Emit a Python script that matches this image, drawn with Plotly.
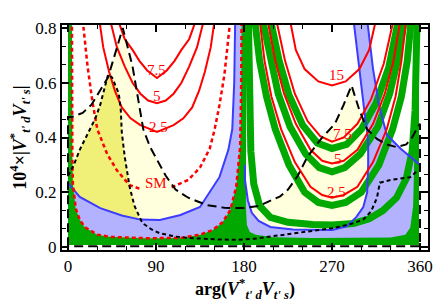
import plotly.graph_objects as go

# ---------------- data (x: arg in degrees, y: 10^4 |V*V|) ----------------
blue_left_x = [0, 12, 33, 55, 74, 94, 115, 135, 155, 164, 168, 170, 171]
blue_left_y = [0.234, 0.183, 0.142, 0.115, 0.1, 0.099, 0.117, 0.146, 0.256, 0.355, 0.43, 0.6, 0.83]

blue_right_x = [181, 181, 184, 188, 195, 207, 230, 247, 270, 285, 295, 302, 306, 307, 307, 303, 298, 292]
blue_right_y = [0.3, 0.245, 0.17, 0.125, 0.095, 0.073, 0.064, 0.062, 0.062, 0.075, 0.11, 0.146, 0.2, 0.3, 0.39, 0.5, 0.65, 0.83]

blue_diag_x = [306, 312, 318, 326, 340, 358, 360]
blue_diag_y = [0.83, 0.65, 0.52, 0.41, 0.36, 0.307, 0.3]

outer_dash_x = [4, 4, 4.5, 5, 8, 12, 17, 30, 43, 80, 115, 135, 148, 158, 166, 172, 176, 177, 177.5]
outer_dash_y = [0.83, 0.5, 0.32, 0.23, 0.14, 0.1, 0.073, 0.045, 0.037, 0.032, 0.033, 0.045, 0.062, 0.09, 0.135, 0.22, 0.365, 0.55, 0.83]

sm_left_x = [15, 20, 25, 30, 40, 50, 63, 74]
sm_left_y = [0.83, 0.66, 0.53, 0.43, 0.34, 0.28, 0.226, 0.212]
sm_right_x = [106, 115, 123, 135, 145, 150, 155, 160, 166]
sm_right_y = [0.218, 0.232, 0.245, 0.29, 0.36, 0.43, 0.52, 0.63, 0.83]

c75_left_x = [51, 58, 66, 73, 81, 91, 101, 109, 116, 124, 131]
c75_left_y = [0.83, 0.76, 0.72, 0.68, 0.645, 0.617, 0.645, 0.68, 0.72, 0.76, 0.83]
c5_left_x = [43, 50, 58, 66, 74, 82, 91, 100, 108, 116, 124, 132, 139]
c5_left_y = [0.83, 0.73, 0.66, 0.6, 0.56, 0.535, 0.525, 0.535, 0.56, 0.6, 0.66, 0.73, 0.83]
c25_left_x = [32, 36, 42, 48, 55, 64, 74, 91, 108, 118, 127, 134, 140, 146, 150]
c25_left_y = [0.83, 0.73, 0.64, 0.57, 0.51, 0.47, 0.445, 0.42, 0.445, 0.47, 0.51, 0.57, 0.64, 0.73, 0.83]

c15_right_x = [227, 233, 242, 256, 270, 284, 298, 308, 315]
c15_right_y = [0.83, 0.72, 0.65, 0.605, 0.59, 0.605, 0.65, 0.72, 0.83]
c75_right_x = [213, 222, 232, 245, 258, 270, 282, 296, 310, 323, 333]
c75_right_y = [0.83, 0.68, 0.56, 0.46, 0.405, 0.385, 0.40, 0.45, 0.54, 0.67, 0.83]
c5_right_x = [204, 212, 221, 233, 248, 260, 270, 282, 296, 312, 324, 333, 340]
c5_right_y = [0.83, 0.68, 0.56, 0.45, 0.355, 0.315, 0.305, 0.315, 0.355, 0.45, 0.56, 0.68, 0.83]
c25_right_x = [196, 201, 208, 218, 232, 248, 260, 270, 282, 296, 312, 326, 335, 341, 346]
c25_right_y = [0.83, 0.68, 0.55, 0.43, 0.31, 0.22, 0.19, 0.18, 0.19, 0.22, 0.31, 0.43, 0.55, 0.68, 0.83]

band_a_x = [184.5, 185, 187, 190, 196, 207, 225, 250, 270, 292, 308, 322, 336, 346, 352, 355, 357]
band_a_y = [0.83, 0.55, 0.35, 0.23, 0.15, 0.108, 0.09, 0.082, 0.08, 0.086, 0.103, 0.133, 0.18, 0.25, 0.35, 0.5, 0.83]
band_b_x = [191, 196, 203, 212, 226, 242, 256, 270, 284, 300, 318, 332, 341, 347, 351]
band_b_y = [0.83, 0.68, 0.55, 0.43, 0.3, 0.2, 0.163, 0.152, 0.163, 0.2, 0.3, 0.43, 0.55, 0.68, 0.83]
band_c_x = [199, 207, 215, 227, 243, 257, 270, 283, 299, 317, 329, 337, 344]
band_c_y = [0.83, 0.68, 0.56, 0.44, 0.34, 0.29, 0.275, 0.29, 0.34, 0.44, 0.56, 0.68, 0.83]
band_d_x = [207, 216, 226, 240, 255, 270, 285, 300, 315, 328, 338]
band_d_y = [0.83, 0.68, 0.555, 0.445, 0.38, 0.36, 0.375, 0.43, 0.525, 0.655, 0.83]

long_dash_x = [0, 0, 4, 15, 24, 41, 56, 66, 77, 84, 100, 110, 123, 142, 160, 179, 195, 204, 217, 225,
               235, 245, 260, 273, 282, 290, 298, 306, 316, 326, 336, 346, 352, 358, 360, 360, 0]
long_dash_y = [0.003, 0.475, 0.475, 0.49, 0.52, 0.62, 0.8, 0.66, 0.43, 0.365, 0.26, 0.21, 0.18, 0.153, 0.143, 0.142, 0.15, 0.164, 0.185, 0.21,
               0.26, 0.33, 0.40, 0.45, 0.52, 0.59, 0.5, 0.43, 0.395, 0.375, 0.365, 0.375, 0.4, 0.44, 0.45, 0.003, 0.003]

short_dash_x = [0, 6, 12, 17, 22, 28, 33, 38, 41, 45, 50, 52, 54, 55, 58, 61, 63, 68, 76, 85, 94, 110, 123, 150, 171,
                190, 204, 220, 239, 256, 273, 290, 302, 310, 316, 319, 330, 340, 350, 358]
short_dash_y = [0.26, 0.3, 0.355, 0.39, 0.43, 0.47, 0.52, 0.59, 0.63, 0.62, 0.58, 0.56, 0.5, 0.42, 0.33, 0.27, 0.22, 0.15, 0.088, 0.065, 0.05, 0.038, 0.033, 0.028, 0.026,
                0.03, 0.037, 0.045, 0.055, 0.063, 0.07, 0.085, 0.1, 0.13, 0.18, 0.235, 0.245, 0.25, 0.255, 0.28]

yellow_x = [0, 6, 12, 17, 22, 28, 33, 38, 41, 45, 50, 52, 54, 55, 58, 61, 63, 68, 73, 55, 33, 12, 0]
yellow_y = [0.26, 0.3, 0.355, 0.39, 0.43, 0.47, 0.52, 0.59, 0.63, 0.62, 0.58, 0.56, 0.5, 0.42, 0.33, 0.27, 0.22, 0.15, 0.1, 0.115, 0.142, 0.183, 0.234]

cream_left_x = [0, 0, 4, 15, 24, 41, 56, 66, 77, 84, 100, 110, 123, 138, 115, 94, 74, 55, 33, 12, 0]
cream_left_y = [0.234, 0.475, 0.475, 0.49, 0.52, 0.62, 0.8, 0.66, 0.43, 0.365, 0.26, 0.21, 0.18, 0.155, 0.117, 0.099, 0.1, 0.115, 0.142, 0.183, 0.234]

cream_right_x = [187, 195, 204, 217, 225, 235, 245, 260, 273, 282, 290, 298, 306, 307, 307, 306, 302, 295, 285, 270, 247, 230, 207, 195, 188]
cream_right_y = [0.147, 0.15, 0.164, 0.185, 0.21, 0.26, 0.33, 0.40, 0.45, 0.52, 0.59, 0.5, 0.43, 0.39, 0.3, 0.2, 0.146, 0.11, 0.075, 0.062, 0.062, 0.064, 0.073, 0.095, 0.125]

lav_left_x = blue_left_x + [177.5, 177, 176, 172, 166, 158, 148, 135, 115, 80, 43, 30, 17, 12, 8, 5]
lav_left_y = blue_left_y + [0.83, 0.55, 0.365, 0.22, 0.135, 0.09, 0.062, 0.045, 0.033, 0.032, 0.037, 0.045, 0.073, 0.1, 0.14, 0.23]

lav_right_x = blue_right_x + blue_diag_x + [357, 357, 183]
lav_right_y = blue_right_y + blue_diag_y + [0.31, 0.02, 0.02]

green_x = [0, 0] + outer_dash_x + [182.5, 182, 182, 183, 186, 192, 210, 250, 300, 330, 345, 350, 353, 354, 354, 359, 359]
green_y = [0.007, 0.83] + outer_dash_y + [0.83, 0.3, 0.15, 0.08, 0.055, 0.045, 0.036, 0.033, 0.033, 0.035, 0.045, 0.07, 0.15, 0.3, 0.83, 0.83, 0.007]

label_text = ["7.5", "5", "2.5", "SM", "15", "7.5", "5", "2.5"]
label_x = [91, 91, 93, 90, 275, 281, 276, 275]
label_y = [0.645, 0.55, 0.437, 0.234, 0.627, 0.412, 0.322, 0.202]

# ---------------- styles ----------------
GREEN = "rgb(0,168,0)"
LAV = "rgb(178,178,255)"
BLUE = "rgb(60,60,255)"
CREAM = "rgb(255,255,222)"
YELLOW = "rgb(240,240,120)"
RED = "rgb(255,0,0)"

fig = go.Figure()

def fill(x, y, color):
    fig.add_trace(go.Scatter(x=x, y=y, mode="lines", fill="toself", fillcolor=color,
                             line=dict(width=0, color=color), hoverinfo="skip"))

def line(x, y, color, width=2, dash="solid"):
    fig.add_trace(go.Scatter(x=x, y=y, mode="lines", line=dict(color=color, width=width, dash=dash),
                             hoverinfo="skip"))

fill(cream_left_x, cream_left_y, CREAM)
fill(cream_right_x, cream_right_y, CREAM)
fill(lav_left_x, lav_left_y, LAV)
fill(lav_right_x, lav_right_y, LAV)
fill(yellow_x, yellow_y, YELLOW)
fill(green_x, green_y, GREEN)
for bx, by in [(band_a_x, band_a_y), (band_b_x, band_b_y), (band_c_x, band_c_y), (band_d_x, band_d_y)]:
    line(bx, by, GREEN, width=7)

line(blue_left_x, blue_left_y, BLUE, 2)
line(blue_right_x, blue_right_y, BLUE, 2)
line(blue_diag_x, blue_diag_y, BLUE, 2)

for cx, cy in [(c75_left_x, c75_left_y), (c5_left_x, c5_left_y), (c25_left_x, c25_left_y),
               (c15_right_x, c15_right_y), (c75_right_x, c75_right_y), (c5_right_x, c5_right_y),
               (c25_right_x, c25_right_y)]:
    line(cx, cy, RED, 2)

line(outer_dash_x, outer_dash_y, RED, 2.5, "4px,3px")
line(sm_left_x, sm_left_y, RED, 2.5, "4px,3px")
line(sm_right_x, sm_right_y, RED, 2.5, "4px,3px")

line(long_dash_x, long_dash_y, "black", 2, "9px,5px")
line(short_dash_x, short_dash_y, "black", 2, "4px,3px")

for t, x, y in zip(label_text, label_x, label_y):
    fig.add_annotation(x=x, y=y, text=t, showarrow=False,
                       font=dict(family="Liberation Serif", size=15, color=RED))

axis_common = dict(showgrid=False, zeroline=False, showline=True, linecolor="black", linewidth=2,
                   mirror="ticks", ticks="inside", ticklen=7, tickwidth=1.5, tickcolor="black",
                   automargin=False,
                   tickfont=dict(family="Liberation Serif", size=17, color="black"))

fig.update_layout(
    width=436, height=305, margin=dict(l=62, r=8, t=25, b=55),
    paper_bgcolor="white", plot_bgcolor="white", showlegend=False,
    xaxis=dict(range=[-6.14, 368.2], tickmode="linear", tick0=0, dtick=90,
               minor=dict(dtick=30, tick0=0, ticks="inside", ticklen=4, tickcolor="black", tickwidth=1),
               title=dict(text="<b>arg(<i>V</i><sup>*</sup><sub><i>t' d</i></sub><i>V</i><sub><i>t' s</i></sub>)</b>",
                          font=dict(family="Liberation Serif", size=18, color="black"), standoff=6),
               **axis_common),
    yaxis=dict(range=[-0.011, 0.811], tickmode="linear", tick0=0, dtick=0.2,
               minor=dict(dtick=0.2 / 3, tick0=0, ticks="inside", ticklen=4, tickcolor="black", tickwidth=1),
               title=dict(text="<b>10<sup>4</sup>×|<i>V</i><sup>*</sup><sub><i>t' d</i></sub><i>V</i><sub><i>t' s</i></sub>|</b>",
                          font=dict(family="Liberation Serif", size=18, color="black"), standoff=4),
               **axis_common),
)

fig.write_html("out.html", config={"displayModeBar": False},
               post_script="document.body.style.margin='0px';document.body.style.overflow='hidden';")
